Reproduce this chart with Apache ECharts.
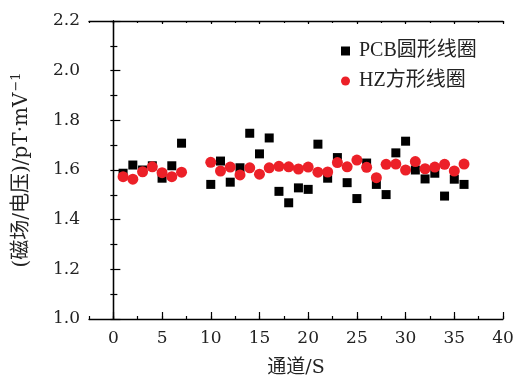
<!DOCTYPE html>
<html><head><meta charset="utf-8">
<script src="https://cdn.jsdelivr.net/npm/echarts@6/dist/echarts.min.js"></script>
<style>html,body{margin:0;padding:0;background:#fff}#c{width:516px;height:381px}</style>
</head><body><div id="c"></div>
<script>
const channels = [1,2,3,4,5,6,7,10,11,12,13,14,15,16,17,18,19,20,21,22,23,24,25,26,27,28,29,30,31,32,33,34,35,36];
const pcbValues = [1.587,1.620,1.600,1.617,1.567,1.617,1.708,1.542,1.636,1.551,1.609,1.748,1.665,1.729,1.514,1.468,1.528,1.522,1.704,1.567,1.650,1.549,1.485,1.628,1.542,1.501,1.669,1.716,1.600,1.564,1.587,1.495,1.563,1.542];
const hzValues = [1.573,1.563,1.593,1.613,1.589,1.573,1.591,1.631,1.596,1.612,1.580,1.609,1.583,1.609,1.615,1.613,1.604,1.612,1.591,1.592,1.630,1.613,1.640,1.611,1.569,1.623,1.624,1.600,1.634,1.605,1.612,1.623,1.596,1.624];
const xTicks = [0,5,10,15,20,25,30,35,40];
const seriesNames = ['PCB圆形线圈','HZ方形线圈'];

const NUMFONT = '"DejaVu Serif",serif';
const FONT = '"Liberation Serif","Noto Sans CJK SC",serif';
const NAMEFONT = '"DejaVu Serif","Noto Sans CJK SC",serif';
const chart = echarts.init(document.getElementById('c'));
const line = {show:true, lineStyle:{color:'#000', width:1.3}};
const tickStyle = {color:'#000', width:1.2};
function xAx(pos, major, labels, len){
  return {
    type:'value', position:pos, min:-2.5, max:40,
    interval: major ? undefined : 2.5,
    axisLine: major ? line : {show:false},
    splitLine:{show:false},
    axisTick: major ? {show:true, inside:true, length:len, customValues:xTicks, lineStyle:tickStyle}
                    : {show:true, inside:true, length:len, lineStyle:tickStyle},
    axisLabel: (major && labels) ? {show:true, customValues:xTicks, color:'#222', fontFamily:NUMFONT, fontSize:17, margin:11} : {show:false},
    name: (major && labels) ? '通道/S' : '',
    nameLocation:'middle', nameGap:40,
    nameTextStyle:{color:'#222', fontFamily:NAMEFONT, fontSize:19}
  };
}
function yAx(pos, labels, len, minorLen){
  return {
    type:'value', position:pos, min:1.0, max:2.2, interval:0.2,
    axisLine: line, splitLine:{show:false},
    axisTick:{show:true, inside:true, length:len, lineStyle:tickStyle},
    minorTick:{show:true, splitNumber:2, length:minorLen, lineStyle:tickStyle},
    axisLabel: labels ? {show:true, color:'#222', fontFamily:NUMFONT, fontSize:17, margin:9, formatter:v=>v.toFixed(1)} : {show:false},
    name: labels ? '(磁场/电压)/pT·mV{sup|−1}' : '',
    nameLocation:'middle', nameGap:56,
    nameTextStyle:{color:'#222', fontFamily:NAMEFONT, fontSize:20,
      rich:{sup:{fontFamily:NAMEFONT, fontSize:13, color:'#222', padding:[0,0,10,1]}}}
  };
}
chart.setOption({
  animation:false,
  backgroundColor:'#fff',
  grid:{left:89, right:13, top:21, bottom:62, outerBoundsMode:'none', containLabel:false},
  legend:{
    orient:'vertical', left:336, top:36, itemGap:10, itemWidth:9, itemHeight:9,
    textStyle:{color:'#222', fontFamily:FONT, fontSize:20, padding:[0,0,0,4]},
    data:[{name:seriesNames[0], icon:'rect'},{name:seriesNames[1], icon:'circle'}]
  },
  xAxis:[xAx('bottom',true,true,7), xAx('bottom',false,false,3), xAx('top',true,false,3), xAx('top',false,false,2)],
  yAxis:[yAx('left',true,7,4), yAx('right',false,3,3)],
  series:[
    {name:seriesNames[0], type:'scatter', symbol:'rect', symbolSize:9, itemStyle:{color:'#000', opacity:1},
     data: channels.map((c,i)=>[c,pcbValues[i]])},
    {name:seriesNames[1], type:'scatter', symbol:'circle', symbolSize:11, itemStyle:{color:'#ec2028', opacity:1},
     data: channels.map((c,i)=>[c,hzValues[i]])}
  ]
});
</script></body></html>
